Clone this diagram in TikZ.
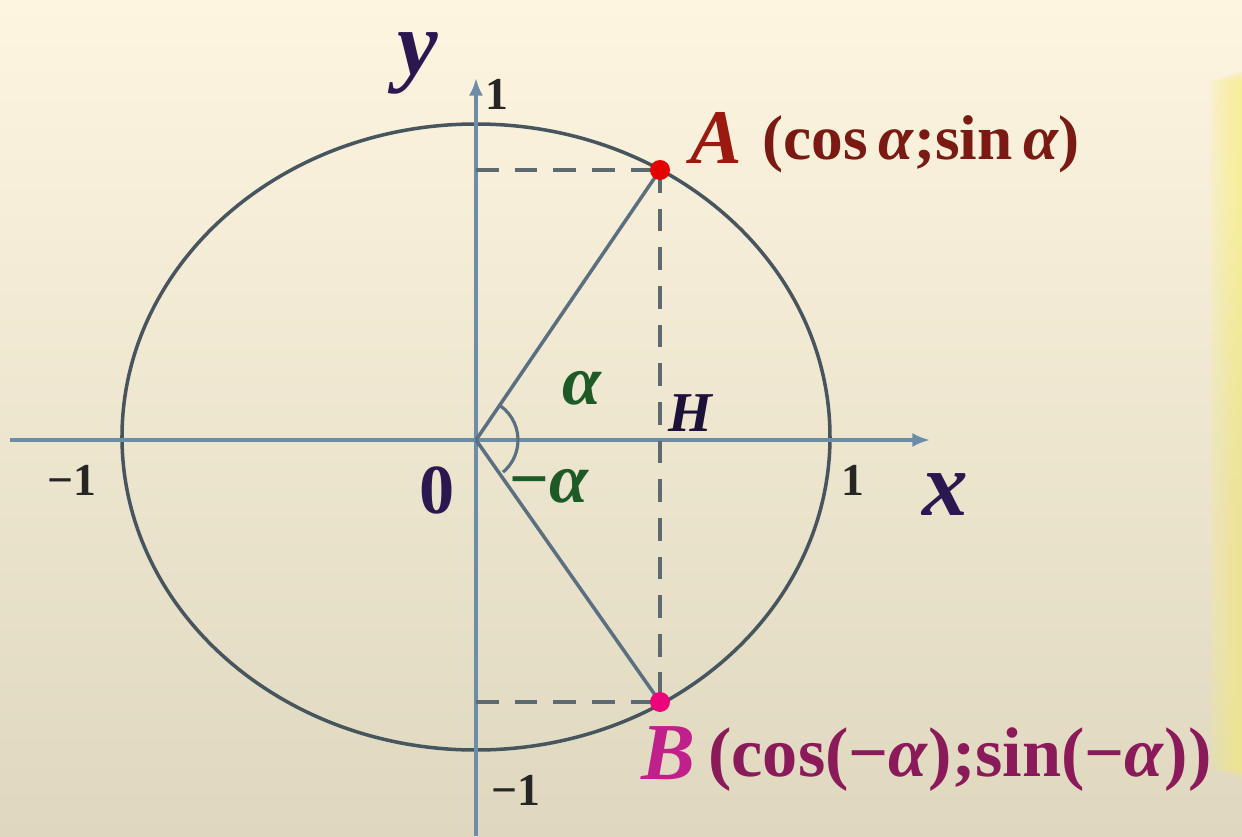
\documentclass[tikz,border=0pt]{standalone}
\usepackage{fontspec}
\setmainfont{Liberation Serif}
\usetikzlibrary{arrows.meta}

\definecolor{bgtop}{HTML}{FDF5E0}
\definecolor{bgbot}{HTML}{DFD8BF}
\definecolor{stripcol}{HTML}{F8EE7C}
\definecolor{axiscol}{HTML}{6D8DA6}
\definecolor{curvecol}{HTML}{46555E}
\definecolor{rayscol}{HTML}{5A7080}
\definecolor{dashcol}{HTML}{5E6A72}
\definecolor{axislab}{HTML}{2B1850}
\definecolor{agreen}{HTML}{1E5A28}
\definecolor{ared}{HTML}{9A1A10}
\definecolor{acoord}{HTML}{7A1A12}
\definecolor{bmag}{HTML}{C0208A}
\definecolor{bcoord}{HTML}{8A1A5A}

\begin{document}
\begin{tikzpicture}[x=0.02cm,y=0.02cm,
    axis/.style={axiscol, line width=2.5pt, -{Latex[length=10pt,width=8pt]}},
    ray/.style={rayscol, line width=2pt},
    helper/.style={dashcol, line width=2.2pt, dash pattern=on 13pt off 9pt},
    tick/.style={font=\fontsize{26}{26}\selectfont\bfseries, text=black!85},
    axname/.style={inner sep=0pt, font=\fontsize{52}{52}\selectfont\bfseries\itshape, text=axislab},
    anglab/.style={font=\fontsize{40}{40}\selectfont\bfseries\itshape, text=agreen}]
	% background
	\shade[top color=bgtop, bottom color=bgbot] (-476,-396) rectangle (766,440);
	\foreach \i in {0,...,11}
		\fill[stripcol, opacity=0.09] (766-\i*3,-340+\i) rectangle (766,370-\i);
	\useasboundingbox (-476,-396) rectangle (766,440);
	
	\coordinate (O) at (0,0);
	\coordinate (A) at (184,270);
	\coordinate (B) at (184,-262);
	\coordinate (H) at (184,0);
	\coordinate (Ay) at (0,270);
	\coordinate (By) at (0,-262);
	\coordinate (xs) at (-466,0);
	\coordinate (xe) at (454,0);
	\coordinate (ys) at (0,-396);
	\coordinate (ye) at (0,362);
	
	% unit circle
	\draw[curvecol, line width=2pt] (0,3) ellipse [x radius=354, y radius=313];
	
	% axes
	\draw[axis] (xs) -- (xe);
	\draw[axis] (ys) -- (ye);
	
	% projections
	\draw[helper] (Ay) -- (A);
	\draw[helper] (By) -- (B);
	\draw[helper] (A) -- (B);
	
	% rays and angle
	\draw[ray] (O) -- (A);
	\draw[ray] (O) -- (B);
	\draw[rayscol, line width=1.8pt] (54:42) arc (54:-50:42);
	
	\fill[red!90!black] (A) circle (10);
	\fill[magenta!85!red] (B) circle (10);
	
	% labels
	\node[axname] (ylab) at (-58,377) {y};
	\node[axname] (xlab) at (469,-55) {x};
	\node[font=\fontsize{40}{40}\selectfont\bfseries, text=axislab] (zero) at (-39,-50) {0};
	\node[tick] (ytop) at (21,346) {1};
	\node[tick] (ybot) at (40,-350) {−1};
	\node[tick] (xleft) at (-404,-40) {−1};
	\node[tick] (xright) at (377,-40) {1};
	\node[anglab] (alpha) at (106,52) {α};
	\node[anglab] (malpha) at (72,-46) {−α};
	\node[font=\fontsize{32}{32}\selectfont\bfseries\itshape, text=axislab!70!black] (hlab) at (214,27) {H};
	
	\node[font=\fontsize{44}{44}\selectfont\bfseries\itshape, text=ared] (alab) at (240,302) {A};
	\node[anchor=west, inner sep=0pt, font=\fontsize{36}{36}\selectfont\bfseries, text=acoord] (acoords) at (286,296) {(cos\,\textit{α};sin\,\textit{α})};
	\node[font=\fontsize{46}{46}\selectfont\bfseries\itshape, text=bmag] (blab) at (192,-313) {B};
	\node[anchor=west, inner sep=0pt, font=\fontsize{40}{40}\selectfont\bfseries, text=bcoord] (bcoords) at (232,-320) {(cos(−\textit{α});sin(−\textit{α}))};
\end{tikzpicture}
\end{document}
